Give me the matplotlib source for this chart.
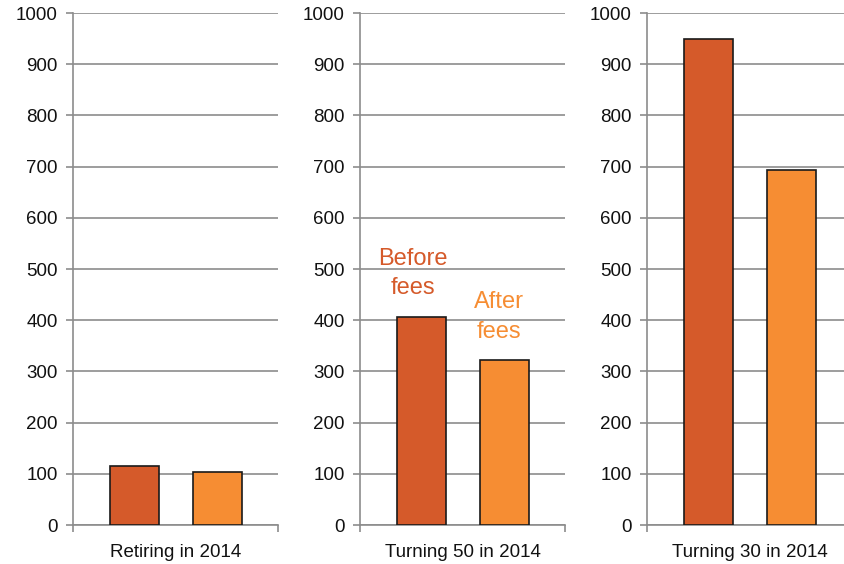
import matplotlib.pyplot as plt

# datos
grupos = ["Retiring in 2014", "Turning 50 in 2014", "Turning 30 in 2014"]
antes_comisiones = [116, 407, 950]
despues_comisiones = [103, 323, 694]
etiquetas_serie = ["Before\nfees", "After\nfees"]
yticks = list(range(0, 1001, 100))

COLOR_ANTES = "#D55A2A"
COLOR_DESPUES = "#F68D33"
GRIS = "#8C8C8C"

plt.rcParams["font.family"] = ["Liberation Sans", "DejaVu Sans"]

fig = plt.figure(figsize=(8.45, 5.64), dpi=100)
W, H = 845, 564

# posiciones de los paneles en pixeles (izquierda)
izquierdas = [73, 360, 647]
ancho_px = 205
abajo_px, arriba_px = 525, 13

for i, grupo in enumerate(grupos):
    ax = fig.add_axes([izquierdas[i] / W, (H - abajo_px) / H,
                       ancho_px / W, (abajo_px - arriba_px) / H])
    ax.bar([0, 1], [antes_comisiones[i], despues_comisiones[i]], width=0.59,
           color=[COLOR_ANTES, COLOR_DESPUES], edgecolor="#1a1a1a",
           linewidth=1.2, zorder=3)
    ax.set_xlim(-0.741, 1.729)
    ax.set_ylim(0, 1000)
    ax.set_yticks(yticks)
    ax.yaxis.grid(True, color=GRIS, linewidth=1.2, zorder=0)
    ax.set_axisbelow(True)

    ax.set_xticks([])
    ax.set_xticks([-0.741, 1.729], minor=True)
    ax.tick_params(axis="x", which="minor", length=5, color=GRIS, width=1.2,
                   direction="out")
    ax.tick_params(axis="y", length=5, color=GRIS, width=1.2, labelsize=13.5,
                   pad=6, labelcolor="#111111")
    for lado in ["top", "right"]:
        ax.spines[lado].set_visible(False)
    for lado in ["left", "bottom"]:
        ax.spines[lado].set_color(GRIS)
        ax.spines[lado].set_linewidth(1.2)
    ax.set_xlabel(grupo, fontsize=13.5, labelpad=5, color="#111111")

    if i == 1:
        ax.text(-0.1, 491, etiquetas_serie[0], ha="center", va="center",
                fontsize=17, color=COLOR_ANTES, linespacing=1.45)
        ax.text(0.93, 406, etiquetas_serie[1], ha="center", va="center",
                fontsize=17, color=COLOR_DESPUES, linespacing=1.45)

fig.savefig("out.png", dpi=100)
